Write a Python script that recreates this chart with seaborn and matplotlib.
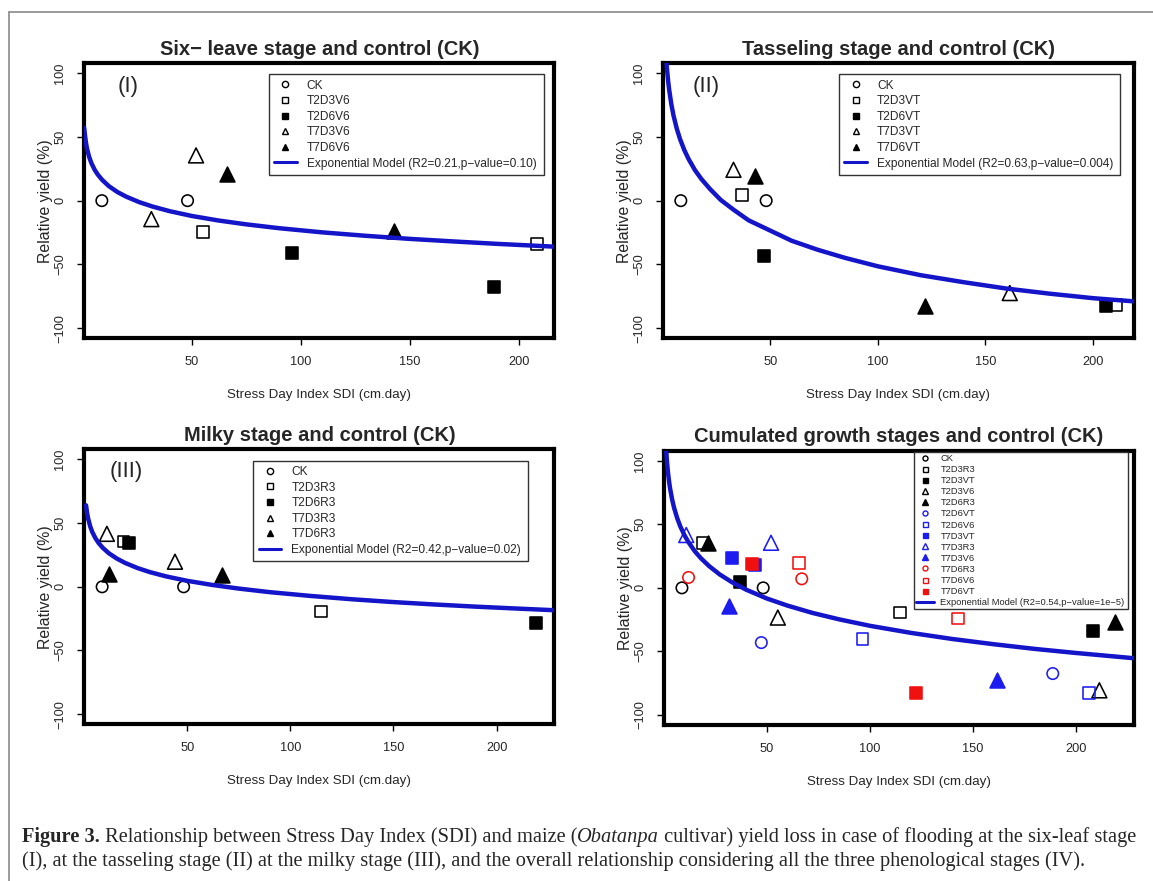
import numpy as np
import pandas as pd
import seaborn as sns
import matplotlib.pyplot as plt
from matplotlib.lines import Line2D

sns.set_theme(style="white")
plt.rcParams['font.family'] = ['Liberation Sans', 'DejaVu Sans']

# ---- data (SDI in cm.day, relative yield in %) ----
# (I) six-leaf stage
v6_group = ['CK', 'CK', 'T7D3V6', 'T2D3V6', 'T7D3V6', 'T7D6V6', 'T2D6V6', 'T7D6V6', 'T2D6V6', 'T2D3V6']
v6_sdi = [8.8, 48.1, 31.5, 55.0, 52.0, 66.0, 96.2, 142.8, 188.5, 208.3]
v6_yield = [0, 0, -14.5, -24.5, 35.5, 21.3, -40.8, -23.7, -67.6, -34.2]
v6_fit_sdi = [0.7, 1, 1.5, 2, 3, 4, 5.5, 7, 9, 12, 16, 20, 26, 32, 40, 50, 62, 75, 90, 110,
              130, 150, 170, 190, 216.3]
v6_fit_yield = [57, 52.2, 45.6, 40.8, 34.2, 29.5, 24.2, 20.3, 16.2, 11.4, 6.7, 3.1, -1.2, -4.6,
                -8.3, -12.0, -15.5, -18.6, -21.6, -24.9, -27.6, -30.0, -32.0, -33.9, -36.1]

# (II) tasseling stage
vt_group = ['CK', 'CK', 'T7D3VT', 'T2D3VT', 'T7D6VT', 'T2D6VT', 'T7D6VT', 'T7D3VT', 'T2D6VT', 'T2D3VT']
vt_sdi = [8.4, 48.1, 32.9, 36.7, 43.1, 47.0, 121.8, 161.4, 206.0, 210.9]
vt_yield = [0, 0, 24.2, 4.5, 19.5, -43.6, -82.3, -72.5, -82.9, -82.1]
vt_fit_sdi = [1.7, 2, 2.5, 3, 4, 5, 6.5, 8, 10, 12, 15, 18, 22, 27, 33, 40, 50, 60, 72, 85,
              100, 120, 140, 160, 180, 200, 219]
vt_fit_yield = [109, 102.6, 93.9, 86.8, 75.5, 66.8, 56.6, 48.5, 39.8, 32.7, 23.9, 16.9, 9.1,
                0.5, -7.2, -15.5, -23.5, -31.5, -38.5, -45.0, -51.5, -58.5, -64.0, -69.0,
                -73.0, -76.5, -79.0]

# (III) milky stage
r3_group = ['CK', 'CK', 'T7D3R3', 'T2D3R3', 'T2D6R3', 'T7D6R3', 'T7D3R3', 'T7D6R3', 'T2D3R3', 'T2D6R3']
r3_sdi = [8.8, 48.3, 11.1, 19.1, 21.8, 12.1, 44.1, 66.8, 114.7, 219.3]
r3_yield = [0, 0, 41.6, 35.5, 34.5, 10.0, 19.7, 9.2, -19.4, -28.1]
r3_fit_sdi = [1, 1.5, 2, 3, 4, 5.5, 7, 9, 12, 16, 20, 26, 32, 40, 50, 62, 75, 90, 110, 130,
              150, 170, 190, 210, 228]
r3_fit_yield = [64, 58.0, 53.7, 47.5, 43.1, 38.3, 34.6, 30.8, 26.4, 22.1, 18.7, 14.7, 11.5,
                8.1, 4.7, 1.5, -1.4, -4.2, -7.2, -9.8, -12.0, -13.9, -15.6, -17.1, -18.4]

# (IV) all stages together
all_group = ['CK', 'CK', 'T2D3R3', 'T2D3R3', 'T2D3VT', 'T2D3VT', 'T2D3V6', 'T2D3V6',
             'T2D6R3', 'T2D6R3', 'T2D6VT', 'T2D6VT', 'T2D6V6', 'T2D6V6', 'T7D3VT', 'T7D3VT',
             'T7D3R3', 'T7D3R3', 'T7D3V6', 'T7D3V6', 'T7D6R3', 'T7D6R3', 'T7D6V6', 'T7D6V6',
             'T7D6VT', 'T7D6VT']
all_sdi = [8.8, 48.2, 19.1, 114.7, 36.9, 208.1, 55.3, 211.2, 21.6, 219.0, 47.3, 188.6,
           96.4, 206.2, 32.9, 44.1, 10.9, 52.0, 31.5, 161.8, 12.0, 66.9, 65.7, 142.8, 42.7, 122.3]
all_yield = [0, 0, 35.5, -19.4, 4.7, -33.9, -23.4, -80.7, 35.5, -26.8, -43.1, -67.5,
             -40.5, -82.8, 23.7, 17.9, 41.6, 35.5, -14.4, -72.3, 8.2, 7.1, 19.7, -24.2, 18.6, -82.8]
all_fit_sdi = [1.15, 1.5, 2, 2.5, 3, 4, 5, 6.5, 8, 10, 12, 15, 18, 22, 27, 33, 40, 50, 60, 72,
               85, 100, 120, 140, 160, 180, 200, 227.8]
all_fit_yield = [108.6, 100.3, 91.4, 84.5, 78.8, 69.9, 63.0, 54.9, 48.4, 41.5, 35.9, 28.9, 23.3,
                 17.1, 10.7, 4.5, -1.5, -8.4, -14.0, -19.7, -24.8, -29.9, -35.5, -40.3, -44.4,
                 -48.1, -51.3, -55.4]

# marker styles: (marker, filled, colour)
def stage_style(name):
    if name == 'CK':
        return ('o', False, 'black')
    if name.startswith('T2D3'):
        return ('s', False, 'black')
    if name.startswith('T2D6'):
        return ('s', True, 'black')
    if name.startswith('T7D3'):
        return ('^', False, 'black')
    return ('^', True, 'black')

all_style = {
    'CK': ('o', False, 'black'), 'T2D3R3': ('s', False, 'black'), 'T2D3VT': ('s', True, 'black'),
    'T2D3V6': ('^', False, 'black'), 'T2D6R3': ('^', True, 'black'),
    'T2D6VT': ('o', False, '#1c1cf0'), 'T2D6V6': ('s', False, '#1c1cf0'), 'T7D3VT': ('s', True, '#1c1cf0'),
    'T7D3R3': ('^', False, '#1c1cf0'), 'T7D3V6': ('^', True, '#1c1cf0'),
    'T7D6R3': ('o', False, '#f01010'), 'T7D6V6': ('s', False, '#f01010'), 'T7D6VT': ('s', True, '#f01010'),
}

curve_color = '#1414c8'
sizes = {'o': 68, 's': 72, '^': 115}


def draw_points(ax, group, sdi, yld, styler):
    df = pd.DataFrame({'group': group, 'sdi': sdi, 'yield': yld})
    for g in dict.fromkeys(group):
        sub = df[df['group'] == g]
        m, filled, c = styler(g)
        sns.scatterplot(data=sub, x='sdi', y='yield', marker=m, s=sizes[m],
                        facecolor=c if filled else 'none', edgecolor=c,
                        linewidth=1.15, ax=ax, zorder=3)


def legend_handles(labels, styler, model_text, ms):
    hs = []
    for lab in labels:
        m, filled, c = styler(lab)
        hs.append(Line2D([], [], ls='', marker=m, markersize=ms * (1.1 if m == '^' else 1.0),
                         mfc=c if filled else 'none', mec=c, mew=1.0, label=lab))
    hs.append(Line2D([], [], color=curve_color, lw=2.2, label=model_text))
    return hs


def style_axes(ax, title, xlim, xlabel_pad=15):
    ax.set_xlim(*xlim)
    ax.set_ylim(-108, 108)
    ax.set_xticks([50, 100, 150, 200])
    ax.set_yticks([-100, -50, 0, 50, 100])
    ax.set_title(title, fontsize=14.5, fontweight='bold', pad=6)
    ax.set_xlabel('Stress Day Index SDI (cm.day)', fontsize=9.6, labelpad=xlabel_pad)
    ax.set_ylabel('Relative yield (%)', fontsize=11.4, labelpad=1)
    for sp in ax.spines.values():
        sp.set_color('black')
        sp.set_linewidth(3)
    ax.tick_params(axis='both', direction='out', length=5, width=1, color='black',
                   labelsize=9.2, pad=8, bottom=True, left=True)
    plt.setp(ax.get_yticklabels(), rotation=90, va='center')


fig = plt.figure(figsize=(11.53, 8.81), dpi=100)
W, H = 1153, 881

def add_axes(left, top, right, bottom):
    return fig.add_axes([left / W, 1 - bottom / H, (right - left) / W, (bottom - top) / H])

ax1 = add_axes(84.4, 63.0, 554.4, 338.3)
ax2 = add_axes(663.4, 63.0, 1133.6, 338.3)
ax3 = add_axes(84.4, 449.3, 554.4, 724.3)
ax4 = add_axes(664.2, 450.7, 1133.6, 725.0)

leg_kw = dict(loc='upper left', borderaxespad=0, fontsize=8.6, frameon=True, fancybox=False,
              framealpha=1, edgecolor='#333333', borderpad=0.45, labelspacing=0.3,
              handlelength=1.9, handletextpad=0.85, mode='expand')

# panel I
draw_points(ax1, v6_group, v6_sdi, v6_yield, stage_style)
sns.lineplot(x=v6_fit_sdi, y=v6_fit_yield, color=curve_color, lw=3.2, ax=ax1, sort=False, zorder=4)
style_axes(ax1, 'Six\u2212 leave stage and control (CK)', (0.8, 216.3))
ax1.text(0.092, 0.913, '(I)', transform=ax1.transAxes, fontsize=16, ha='center', va='center')
ax1.legend(handles=legend_handles(['CK', 'T2D3V6', 'T2D6V6', 'T7D3V6', 'T7D6V6'], stage_style,
                                  'Exponential Model (R2=0.21,p\u2212value=0.10)', 4.5),
           bbox_to_anchor=(0.392, 0.959, 0.585, 0), **leg_kw)

# panel II
draw_points(ax2, vt_group, vt_sdi, vt_yield, stage_style)
sns.lineplot(x=vt_fit_sdi, y=vt_fit_yield, color=curve_color, lw=3.2, ax=ax2, sort=False, zorder=4)
style_axes(ax2, 'Tasseling stage and control (CK)', (0.3, 219.0))
ax2.text(0.092, 0.915, '(II)', transform=ax2.transAxes, fontsize=16, ha='center', va='center')
ax2.legend(handles=legend_handles(['CK', 'T2D3VT', 'T2D6VT', 'T7D3VT', 'T7D6VT'], stage_style,
                                  'Exponential Model (R2=0.63,p\u2212value=0.004)', 4.5),
           bbox_to_anchor=(0.373, 0.959, 0.599, 0), **leg_kw)

# panel III
draw_points(ax3, r3_group, r3_sdi, r3_yield, stage_style)
sns.lineplot(x=r3_fit_sdi, y=r3_fit_yield, color=curve_color, lw=3.2, ax=ax3, sort=False, zorder=4)
style_axes(ax3, 'Milky stage and control (CK)', (0.2, 228.0))
ax3.text(0.0885, 0.918, '(III)', transform=ax3.transAxes, fontsize=16, ha='center', va='center')
ax3.legend(handles=legend_handles(['CK', 'T2D3R3', 'T2D6R3', 'T7D3R3', 'T7D6R3'], stage_style,
                                  'Exponential Model (R2=0.42,p\u2212value=0.02)', 4.5),
           bbox_to_anchor=(0.359, 0.9585, 0.585, 0), **leg_kw)

# panel IV
all_labels = list(all_style.keys())
draw_points(ax4, all_group, all_sdi, all_yield, lambda g: all_style[g])
sns.lineplot(x=all_fit_sdi, y=all_fit_yield, color=curve_color, lw=3.2, ax=ax4, sort=False, zorder=4)
style_axes(ax4, 'Cumulated growth stages and control (CK)', (0.2, 227.8))
ax4.legend(handles=legend_handles(all_labels, lambda g: all_style[g],
                                  'Exponential Model (R2=0.54,p\u2212value=1e\u22125)', 3.6),
           loc='upper left', bbox_to_anchor=(0.5315, 0.996, 0.456, 0), mode='expand',
           borderaxespad=0, fontsize=6.75, frameon=True, fancybox=False, framealpha=1,
           edgecolor='#333333', borderpad=0.25, labelspacing=0.22, handlelength=1.9,
           handletextpad=0.7)

# outer frame lines of the page
fig.add_artist(Line2D([9 / W, 9 / W], [0, 1 - 12 / H], transform=fig.transFigure, color='#8a8a8a', lw=1.2))
fig.add_artist(Line2D([9 / W, 1], [1 - 12 / H, 1 - 12 / H], transform=fig.transFigure, color='#8a8a8a', lw=1.2))

# caption
serif = ['Liberation Serif', 'DejaVu Serif']
cap_size = 14.7
t = fig.text(22 / W, 1 - 837 / H, 'Figure 3.', family=serif, fontsize=cap_size,
             fontweight='bold', va='center', ha='left')
t = ax1.annotate(' Relationship between Stress Day Index (SDI) and maize (', xy=(1, 0), xycoords=t,
                 va='bottom', ha='left', family=serif, fontsize=cap_size, annotation_clip=False)
t = ax1.annotate('Obatanpa', xy=(1, 0), xycoords=t, va='bottom', ha='left', family=serif,
                 fontsize=cap_size, style='italic', annotation_clip=False)
t = ax1.annotate(' cultivar) yield loss in case of flooding at the six-leaf stage', xy=(1, 0), xycoords=t,
                 va='bottom', ha='left', family=serif, fontsize=cap_size, annotation_clip=False)
fig.text(22 / W, 1 - 861 / H,
         '(I), at the tasseling stage (II) at the milky stage (III), and the overall relationship '
         'considering all the three phenological stages (IV).',
         family=serif, fontsize=cap_size, va='center', ha='left')

fig.savefig('out.png', dpi=100)
